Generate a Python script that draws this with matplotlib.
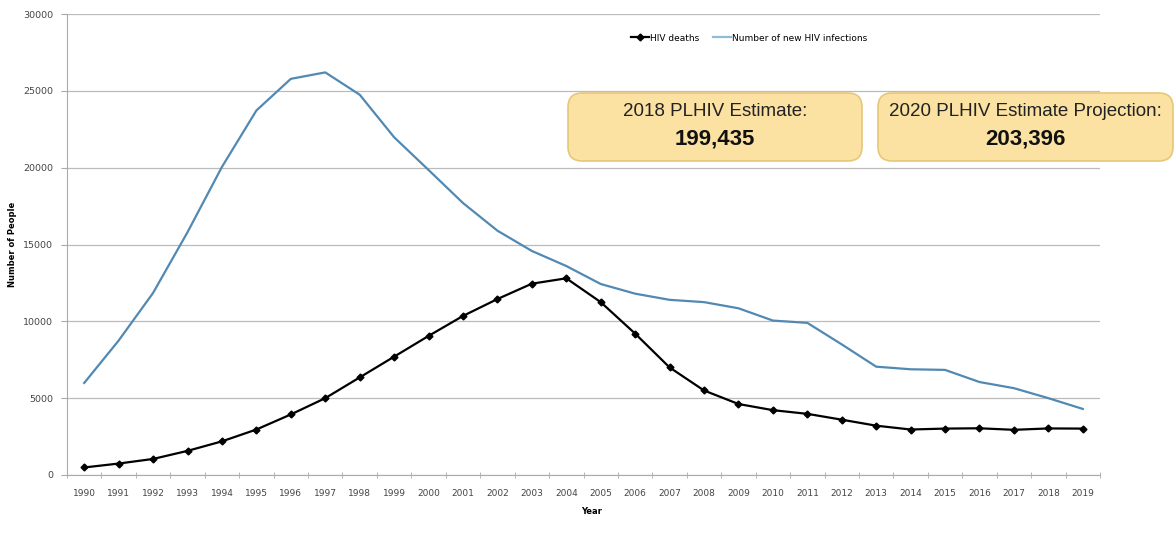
import matplotlib
matplotlib.use("Agg")
import matplotlib.pyplot as plt
from matplotlib.patches import FancyBboxPatch

years = [str(y) for y in range(1990, 2020)]
hiv_deaths = [490, 745, 1045, 1570, 2190, 2960, 3940, 5000, 6350, 7700,
              9050, 10350, 11450, 12450, 12800, 11250, 9200, 7000, 5500, 4620,
              4220, 3980, 3600, 3210, 2960, 3020, 3040, 2940, 3030, 3020]
new_infections = [5990, 8750, 11850, 15800, 20050, 23720, 25780, 26200, 24750, 21980,
                  19850, 17700, 15900, 14580, 13600, 12430, 11800, 11400, 11250, 10850,
                  10050, 9900, 8500, 7050, 6880, 6840, 6050, 5650, 5000, 4300]
y_ticks = [0, 5000, 10000, 15000, 20000, 25000, 30000]
box_titles = ["2018 PLHIV Estimate:", "2020 PLHIV Estimate Projection:"]
box_values = ["199,435", "203,396"]

W, H = 1175, 542
fig = plt.figure(figsize=(W / 100, H / 100), dpi=100)
ax = fig.add_axes([67 / W, 1 - 475 / H, (1100 - 67) / W, (475 - 14) / H])
x = list(range(len(years)))

ax.plot(x, new_infections, color="#5189b3", lw=1.6, label="Number of new HIV infections", zorder=3)
ax.plot(x, hiv_deaths, color="black", lw=1.6, marker="D", ms=3.5, label="HIV deaths", zorder=4)

ax.set_xlim(-0.5, len(years) - 0.5)
ax.set_ylim(0, 30000)
ax.set_yticks(y_ticks)
ax.set_yticklabels([str(v) for v in y_ticks], fontsize=6.8, color="#444444", family="DejaVu Sans")
ax.set_xticks(x)
ax.set_xticklabels(years, fontsize=6.5, color="#444444", family="DejaVu Sans")
ax.set_xticks([i - 0.5 for i in range(len(years) + 1)], minor=True)
ax.tick_params(axis="x", which="major", length=0, pad=10)
ax.tick_params(axis="x", which="minor", length=4, color="#aaaaaa", direction="inout")
ax.tick_params(axis="y", length=4, color="#aaaaaa", direction="out", pad=6)
ax.grid(axis="y", color="#bbbbbb", lw=0.9)
ax.set_axisbelow(True)
for s in ["top", "right"]:
    ax.spines[s].set_visible(False)
ax.spines["left"].set_color("#aaaaaa")
ax.spines["bottom"].set_color("#aaaaaa")

ax.set_ylabel("Number of People", fontsize=6, fontweight="bold")
ax.yaxis.set_label_coords((17 - 67) / (1100 - 67), 0.5)
ax.set_xlabel("Year", fontsize=6, fontweight="bold")
ax.xaxis.set_label_coords((592 - 67) / (1100 - 67), -(507 - 475) / (475 - 14))

h, l = ax.get_legend_handles_labels()
leg = ax.legend(h[::-1], l[::-1], loc="upper center", bbox_to_anchor=(0.66, 0.975), ncol=2,
                frameon=False, fontsize=6.5, handlelength=2.0, handletextpad=0.1, columnspacing=1.5)
leg.get_lines()[1].set_color("#8fbcd8")

# Annotation boxes (figure pixel coords)
boxes = [(568, 862), (878, 1173)]
for (x0, x1), t, v in zip(boxes, box_titles, box_values):
    y0, y1 = 93, 161
    p = FancyBboxPatch((x0 / W, 1 - y1 / H), (x1 - x0) / W, (y1 - y0) / H,
                       boxstyle="round,pad=0,rounding_size=0.012", transform=fig.transFigure,
                       facecolor="#fbe2a2", edgecolor="#e6c77a", lw=1.2, zorder=10,
                       mutation_aspect=W / H)
    fig.add_artist(p)
    cx = (x0 + x1) / 2 / W
    fig.text(cx, 1 - 112 / H, t, ha="center", va="center", fontsize=13.5,
             family="Liberation Sans", color="#222222", zorder=11)
    fig.text(cx, 1 - 139 / H, v, ha="center", va="center", fontsize=16,
             family="Liberation Sans", fontweight="bold", color="#111111", zorder=11)

fig.savefig("out.png", dpi=100)
